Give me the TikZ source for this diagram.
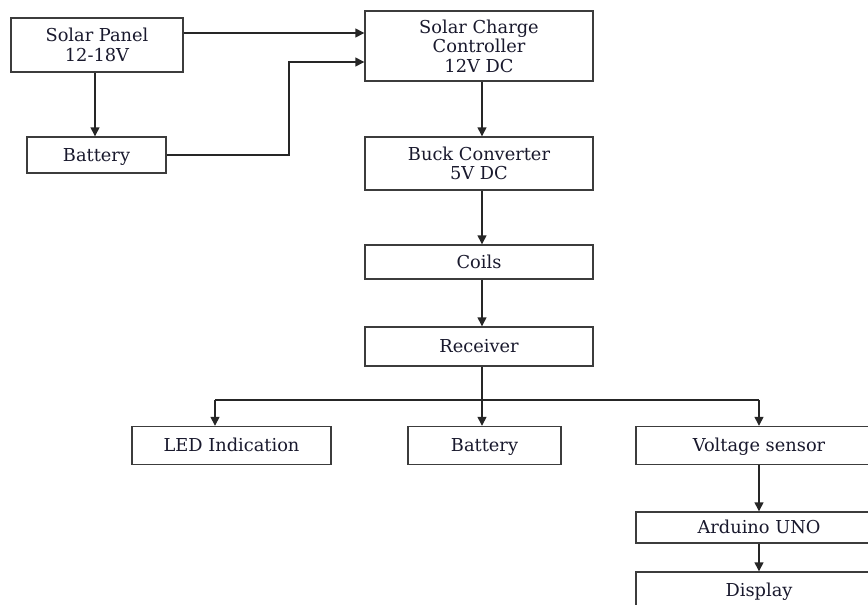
\documentclass[tikz,border=0pt]{standalone}
\usepackage{fontspec}
\setmainfont{DejaVu Serif}
\usetikzlibrary{arrows.meta}
\definecolor{txt}{RGB}{25,25,45}
\definecolor{edge}{RGB}{60,60,60}
\begin{document}
\begin{tikzpicture}[x=1pt,y=-1pt,
  blk/.style={draw=edge, line width=1.4pt, fill=white, inner sep=0pt, align=center,
              font=\fontsize{17.8}{19.5}\selectfont, text=txt},
  one/.style={text height=12.5pt, text depth=0.5pt},
  arr/.style={-{Triangle[length=9pt,width=9pt]}, line width=1.4pt, draw=black!85},
  ln/.style={line width=1.4pt, draw=black!85}]
\useasboundingbox (0,0) rectangle (868,605);
\clip (0,0) rectangle (868,605);

\node[blk, minimum width=172pt, minimum height=54pt] (sp) at (97,45) {Solar Panel\\12-18V};
\node[blk, one, minimum width=139pt, minimum height=36pt] (bl) at (96.5,155) {Battery};
\node[blk, minimum width=228pt, minimum height=70pt] (cc) at (479,46) {Solar Charge\\Controller\\12V DC};
\node[blk, minimum width=228pt, minimum height=53pt] (bk) at (479,163.5) {Buck Converter\\5V DC};
\node[blk, one, minimum width=228pt, minimum height=34pt] (co) at (479,262) {Coils};
\node[blk, one, minimum width=228pt, minimum height=39pt] (rc) at (479,346.5) {Receiver};
\node[blk, one, minimum width=199pt, minimum height=38pt] (led) at (231.5,445.5) {LED Indication};
\node[blk, one, minimum width=153pt, minimum height=38pt] (bm) at (484.5,445.5) {Battery};
\node[blk, one, minimum width=246pt, minimum height=38pt] (vs) at (759,445.5) {Voltage sensor};
\node[blk, one, minimum width=246pt, minimum height=31pt] (ar) at (759,527.5) {Arduino UNO};
\node[blk, one, minimum width=246pt, minimum height=36pt] (dp) at (759,590) {Display};

% top section
\draw[arr] (sp.east |- 0,33) -- (cc.west |- 0,33);
\draw[arr] (sp.south -| 95,0) -- (bl.north -| 95,0);
\coordinate (bend) at (289,155);
\draw[arr] (bl.east) -- (bend) |- (cc.west |- 0,62);

% main chain
\draw[arr] (cc.south -| 482,0) -- (bk.north -| 482,0);
\draw[arr] (bk.south -| 482,0) -- (co.north -| 482,0);
\draw[arr] (co.south -| 482,0) -- (rc.north -| 482,0);

% distribution
\coordinate (sl) at (215,400);
\coordinate (sr) at (759,400);
\draw[ln] (sl) -- (sr);
\draw[arr] (rc.south -| 482,0) -- (bm.north -| 482,0);
\draw[arr] (sl) -- (led.north -| sl);
\draw[arr] (sr) -- (vs.north);
\draw[arr] (vs.south) -- (ar.north);
\draw[arr] (ar.south) -- (dp.north);
\end{tikzpicture}
\end{document}
